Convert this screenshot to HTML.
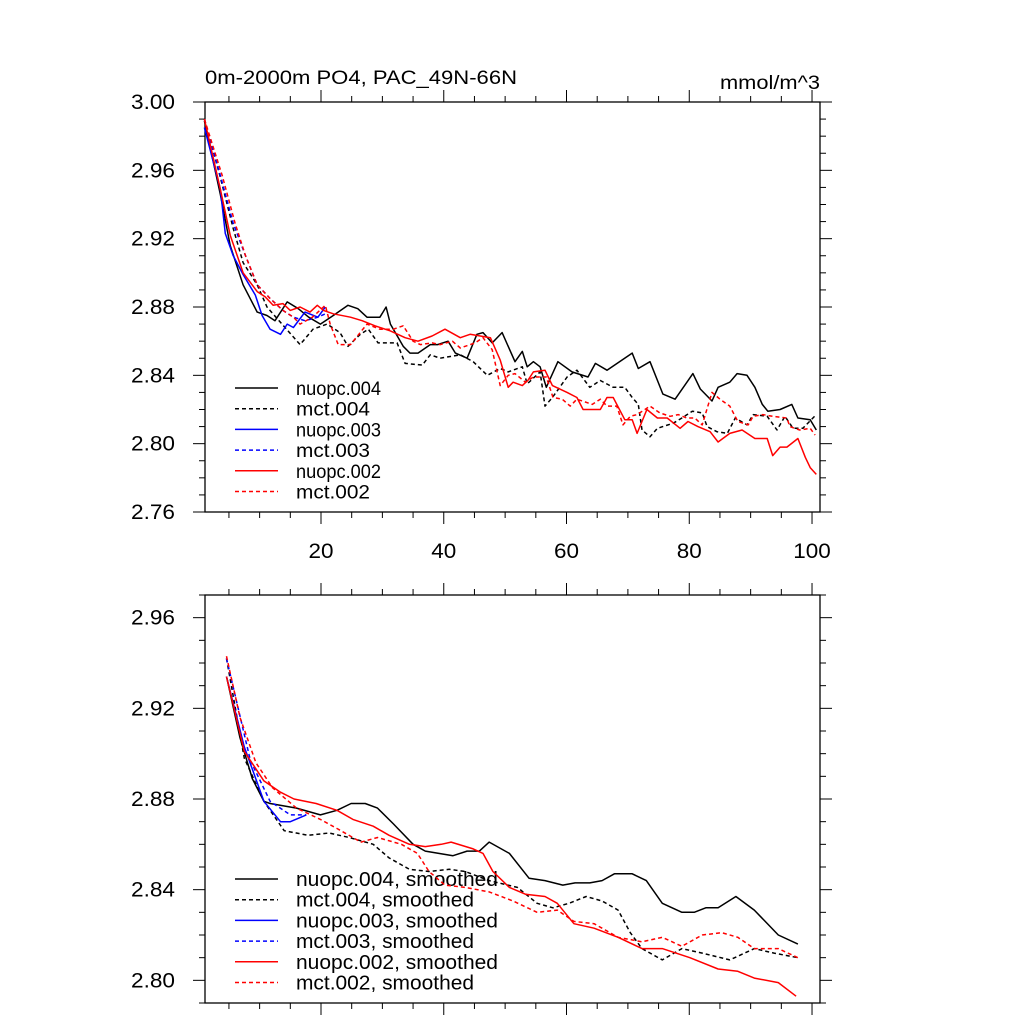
<!DOCTYPE html>
<html><head><meta charset="utf-8">
<style>
html,body{margin:0;padding:0;background:#fff;}
svg{display:block;font-family:"Liberation Sans",sans-serif;}
</style></head>
<body>
<svg id="chart" width="1024" height="1024" viewBox="0 0 1024 1024">
<text x="205" y="84" font-size="19" textLength="312" lengthAdjust="spacingAndGlyphs">0m-2000m PO4, PAC_49N-66N</text>
<text x="720" y="89" font-size="19" textLength="100" lengthAdjust="spacingAndGlyphs">mmol/m^3</text>
<g id="top"></g>
<g id="bot"></g>
</svg>
<script>
// ---------- data (years, values) ----------
const xTickValues = [20, 40, 60, 80, 100];
const topYTicks = ["2.76","2.80","2.84","2.88","2.92","2.96","3.00"];
const botYTicks = ["2.80","2.84","2.88","2.92","2.96"];

const t_n004_x = [1,3.6,5.2,7.3,9.6,11.2,12.5,14.5,16.3,18,19.9,22,24.4,26,27.5,29.6,30.6,31.3,33.4,34.5,35.8,37.8,39,40.7,41.9,43.8,45.4,46.4,47.9,49.5,51.6,52.8,53.6,54.6,55.7,56.7,58.6,60.9,63.5,64.7,66.6,70.7,71.7,73.6,75.7,77.7,80.6,81.8,83.7,84.7,86.6,87.8,89.4,90.7,91.9,92.8,94.8,96.7,97.7,99.7,100.7];
const t_n004_y = [2.989,2.946,2.916,2.893,2.877,2.875,2.872,2.883,2.879,2.874,2.870,2.875,2.881,2.879,2.874,2.874,2.880,2.870,2.857,2.853,2.853,2.858,2.858,2.860,2.853,2.850,2.864,2.865,2.859,2.865,2.848,2.854,2.845,2.848,2.845,2.833,2.848,2.842,2.839,2.847,2.843,2.853,2.844,2.848,2.829,2.826,2.841,2.832,2.825,2.833,2.836,2.841,2.840,2.833,2.823,2.819,2.820,2.823,2.815,2.814,2.808];

const t_m004_x = [1,3.6,5.7,7.3,9.6,11.2,13.4,16.6,18.7,21,23.1,24.4,26.4,27.7,29.3,32.4,33.7,36.5,37.8,39.4,42.7,44.8,47.1,49.2,50.5,52.8,53.6,55.7,56.5,57.7,60.1,61.7,63.8,65.5,67.6,69.5,70.7,71.7,72.3,73.6,74.8,77.4,78.8,80.5,82.1,82.9,84.5,86.2,87.5,89.4,90.4,92.7,94.3,95.6,96.9,98.5,100.7];
const t_m004_y = [2.990,2.956,2.926,2.906,2.893,2.880,2.871,2.858,2.867,2.870,2.865,2.857,2.864,2.867,2.859,2.859,2.847,2.846,2.852,2.850,2.852,2.848,2.840,2.844,2.842,2.845,2.835,2.842,2.822,2.827,2.839,2.843,2.833,2.837,2.833,2.833,2.827,2.823,2.808,2.804,2.809,2.812,2.815,2.819,2.818,2.810,2.807,2.806,2.815,2.811,2.817,2.816,2.808,2.816,2.809,2.809,2.817];

const t_n003_x = [1,3.6,4.4,5.7,7.3,9.3,10.4,11.7,13.4,14.5,15.5,17.4,19.5,20.7];
const t_n003_y = [2.985,2.949,2.923,2.910,2.899,2.887,2.875,2.867,2.864,2.870,2.868,2.877,2.874,2.880];

const t_m003_x = [1,3.6,5.7,7.7,9.6,11.7,13.8,15.5,17.4,19.5,20.7];
const t_m003_y = [2.990,2.957,2.929,2.910,2.893,2.885,2.878,2.874,2.872,2.874,2.876];

const t_n002_x = [1,3.6,5.2,7.3,9.6,10.9,12.2,13.8,15,16.6,18.2,19.4,20.4,22,24.8,26.7,28.8,31.3,33.7,35.8,38.1,40.2,42.7,44.3,47.6,49.2,50.5,51.3,52.8,53.7,54.6,56.5,57.7,60.1,61.7,62.7,65.5,66.6,67.6,69.5,70.7,71.5,73.1,74.8,76.4,78.5,79.8,81.4,83.4,84.7,86.6,88.6,90.7,92.7,93.6,94.8,95.9,97.7,98.9,99.7,100.7];
const t_n002_y = [2.990,2.949,2.922,2.900,2.889,2.886,2.881,2.882,2.878,2.880,2.877,2.881,2.878,2.876,2.874,2.872,2.869,2.866,2.862,2.860,2.863,2.867,2.862,2.864,2.862,2.849,2.833,2.836,2.834,2.837,2.842,2.843,2.834,2.830,2.827,2.820,2.820,2.827,2.827,2.814,2.814,2.806,2.820,2.815,2.815,2.809,2.813,2.810,2.807,2.801,2.806,2.808,2.803,2.803,2.793,2.798,2.798,2.803,2.792,2.786,2.782];

const t_m002_x = [1,3.9,6,7.7,9.6,11.7,13.8,15.5,16.6,18.6,20.7,21.5,22.8,24.8,27.5,29.6,31.8,33.4,35,36.2,38.1,39.4,41.4,42.7,45.1,46.4,47.9,49.2,50.5,51.6,53.3,54.6,56.7,57.8,59.3,60.6,61.7,64.2,65.5,66.6,68.2,69.2,70.4,71.5,73.6,75.2,76.9,78.2,79.6,80.9,82.1,83.7,85,86.6,87.9,89.6,90.4,92,93.6,95.9,96.4,98,99.7,100.5];
const t_m002_y = [2.990,2.957,2.929,2.910,2.893,2.885,2.878,2.874,2.870,2.874,2.881,2.870,2.858,2.858,2.870,2.867,2.867,2.869,2.860,2.858,2.859,2.858,2.860,2.856,2.859,2.862,2.855,2.834,2.840,2.841,2.836,2.839,2.839,2.827,2.826,2.822,2.826,2.823,2.826,2.822,2.822,2.811,2.816,2.817,2.822,2.818,2.816,2.817,2.815,2.815,2.811,2.830,2.826,2.822,2.813,2.811,2.816,2.817,2.816,2.815,2.810,2.808,2.809,2.805];

const b_n004_x = [4.6,6.8,8.8,10.7,11.7,16,19.9,22.6,24.9,27.2,29.2,31.8,35,37,41.5,43.8,45.8,47.4,50.7,53.9,56.5,59.4,61.4,63.8,65.8,67.8,70.7,73,75.6,78.8,80.8,82.7,84.7,87.6,90.6,94.5,97.7];
const b_n004_y = [2.934,2.907,2.889,2.879,2.878,2.876,2.873,2.875,2.878,2.878,2.876,2.869,2.860,2.857,2.855,2.857,2.857,2.861,2.856,2.845,2.844,2.842,2.843,2.843,2.844,2.847,2.847,2.844,2.834,2.830,2.830,2.832,2.832,2.837,2.831,2.820,2.816];

const b_m004_x = [4.6,7.5,10.7,14,17.9,21.3,24.6,28.5,31.1,34.4,37.6,40.9,43.5,47.4,52,55.2,57.8,60.4,63.2,65.8,68.4,70.4,72.3,75.6,78.8,82.1,86.6,90.6,93.8,97.7];
const b_m004_y = [2.942,2.898,2.879,2.866,2.864,2.865,2.863,2.860,2.854,2.849,2.848,2.849,2.848,2.844,2.841,2.834,2.832,2.834,2.837,2.835,2.831,2.821,2.814,2.809,2.814,2.812,2.809,2.814,2.812,2.810];

const b_n003_x = [4.6,7.5,10.7,13.4,15,17.6];
const b_n003_y = [2.934,2.903,2.879,2.870,2.870,2.873];

const b_m003_x = [4.6,8.5,11.7,15,17.6];
const b_m003_y = [2.942,2.897,2.879,2.873,2.873];

const b_n002_x = [4.6,7.5,10.7,13.4,15.6,19.2,22.6,25.2,28.5,31.1,34.4,37,39.6,41.2,44.8,46.4,48,50.7,53.3,56.5,58.5,61.2,64.5,68.4,72.3,75.6,80.1,84.7,87.9,90.6,94.5,97.4];
const b_n002_y = [2.934,2.901,2.888,2.883,2.880,2.878,2.875,2.871,2.868,2.864,2.860,2.859,2.860,2.861,2.858,2.856,2.848,2.841,2.838,2.837,2.834,2.825,2.823,2.819,2.814,2.814,2.810,2.805,2.804,2.801,2.799,2.793];

const b_m002_x = [4.6,6.8,9.4,12.1,16,19.9,22.6,26.5,29.2,33.1,35.7,37.6,40.2,43.5,47.4,51.3,55.2,58.5,61.2,64.5,68.4,72.3,75.6,78.8,82.1,85.3,87.9,90.6,94.5,97.7];
const b_m002_y = [2.943,2.916,2.896,2.885,2.876,2.871,2.867,2.861,2.863,2.860,2.856,2.848,2.842,2.841,2.839,2.835,2.830,2.831,2.826,2.825,2.819,2.817,2.819,2.815,2.820,2.821,2.819,2.814,2.814,2.810];

// ---------- drawing ----------
const NS = "http://www.w3.org/2000/svg";
function mk(tag, attrs, parent){
  const e = document.createElementNS(NS, tag);
  for (const k in attrs) e.setAttribute(k, attrs[k]);
  parent.appendChild(e);
  return e;
}
const X0 = 205, X1 = 820, XMIN = 1.1, XMAX = 101.3;
function sx(v){ return X0 + (v - XMIN) / (XMAX - XMIN) * (X1 - X0); }

function panel(g, top, bottom, ymin, ymax, yLabels, showX, series, legendY, legendSuffix){
  const sy = v => bottom - (v - ymin) / (ymax - ymin) * (bottom - top);
  const frame = mk('rect', {x:X0, y:top, width:X1-X0, height:bottom-top, fill:'none', stroke:'#000', 'stroke-width':1.3}, g);
  
  
  for (let v = 5; v <= XMAX; v += 5){
    const x = sx(v), L = (v % 20 === 0) ? 12 : 6;
    const t1 = mk('line', {x1:x, x2:x, y1:bottom, y2:bottom+L, stroke:'#000', 'stroke-width':1}, g);
    
    
    const t2 = mk('line', {x1:x, x2:x, y1:top, y2:top-L, stroke:'#000', 'stroke-width':1}, g);
    
    
  }
  if (showX){
    xTickValues.forEach(v => {
      const s = String(v);
      const t = mk('text', {x:sx(v), y:bottom+46, 'font-size':21, 'text-anchor':'middle', textLength:s.length*12.5, lengthAdjust:'spacingAndGlyphs'}, g);
      t.textContent = s;
      
      
    });
  }
  const base = Math.ceil(ymin * 100 - 1e-6);
  for (let i = base; i <= Math.floor(ymax * 100 + 1e-6); i++){
    const v = i / 100, y = sy(v);
    const major = yLabels.some(s => Math.abs(parseFloat(s) - v) < 1e-6);
    const L = major ? 12 : 6;
    const a = mk('line', {x1:X0-L, x2:X0, y1:y, y2:y, stroke:'#000', 'stroke-width':1}, g);
    
    
    const b = mk('line', {x1:X1, x2:X1+L, y1:y, y2:y, stroke:'#000', 'stroke-width':1}, g);
    
    
  }
  yLabels.forEach(s => {
    const t = mk('text', {x:131, y:sy(parseFloat(s))+7, 'font-size':21, textLength:44, lengthAdjust:'spacingAndGlyphs'}, g);
    t.textContent = s;
    
    
  });
  series.forEach((s, i) => {
    const pts = s.x.map((xv, j) => sx(xv).toFixed(1) + ',' + sy(s.y[j]).toFixed(1)).join(' ');
    const attrs = {points:pts, fill:'none', stroke:s.color, 'stroke-width':1.5, 'stroke-linejoin':'round'};
    if (s.dash) attrs['stroke-dasharray'] = '4,3';
    const p = mk('polyline', attrs, g);
    
    
    const ly = legendY + i * 20.7;
    const ll = {x1:235, x2:278, y1:ly, y2:ly, stroke:s.color, 'stroke-width':1.5};
    if (s.dash) ll['stroke-dasharray'] = '4,3';
    const le = mk('line', ll, g);
    
    
    const isN = s.name.startsWith('nuopc');
    const len = legendSuffix ? (isN ? 202 : 178) : (isN ? 85 : 74);
    const lt = mk('text', {x:296, y:ly+7, 'font-size':legendSuffix ? 20 : 19, textLength:len, lengthAdjust:'spacingAndGlyphs'}, g);
    lt.textContent = s.name + legendSuffix;
    
    
  });
}

const topSeries = [
  {name:'nuopc.004', x:t_n004_x, y:t_n004_y, color:'#000', dash:false},
  {name:'mct.004', x:t_m004_x, y:t_m004_y, color:'#000', dash:true},
  {name:'nuopc.003', x:t_n003_x, y:t_n003_y, color:'#0000ff', dash:false},
  {name:'mct.003', x:t_m003_x, y:t_m003_y, color:'#0000ff', dash:true},
  {name:'nuopc.002', x:t_n002_x, y:t_n002_y, color:'#ff0000', dash:false},
  {name:'mct.002', x:t_m002_x, y:t_m002_y, color:'#ff0000', dash:true}
];
const botSeries = [
  {name:'nuopc.004', x:b_n004_x, y:b_n004_y, color:'#000', dash:false},
  {name:'mct.004', x:b_m004_x, y:b_m004_y, color:'#000', dash:true},
  {name:'nuopc.003', x:b_n003_x, y:b_n003_y, color:'#0000ff', dash:false},
  {name:'mct.003', x:b_m003_x, y:b_m003_y, color:'#0000ff', dash:true},
  {name:'nuopc.002', x:b_n002_x, y:b_n002_y, color:'#ff0000', dash:false},
  {name:'mct.002', x:b_m002_x, y:b_m002_y, color:'#ff0000', dash:true}
];
panel(document.getElementById('top'), 102, 512, 2.76, 3.00, topYTicks, true, topSeries, 388, '');
panel(document.getElementById('bot'), 595, 1003, 2.79, 2.97, botYTicks, false, botSeries, 879, ', smoothed');
</script>
</body></html>
